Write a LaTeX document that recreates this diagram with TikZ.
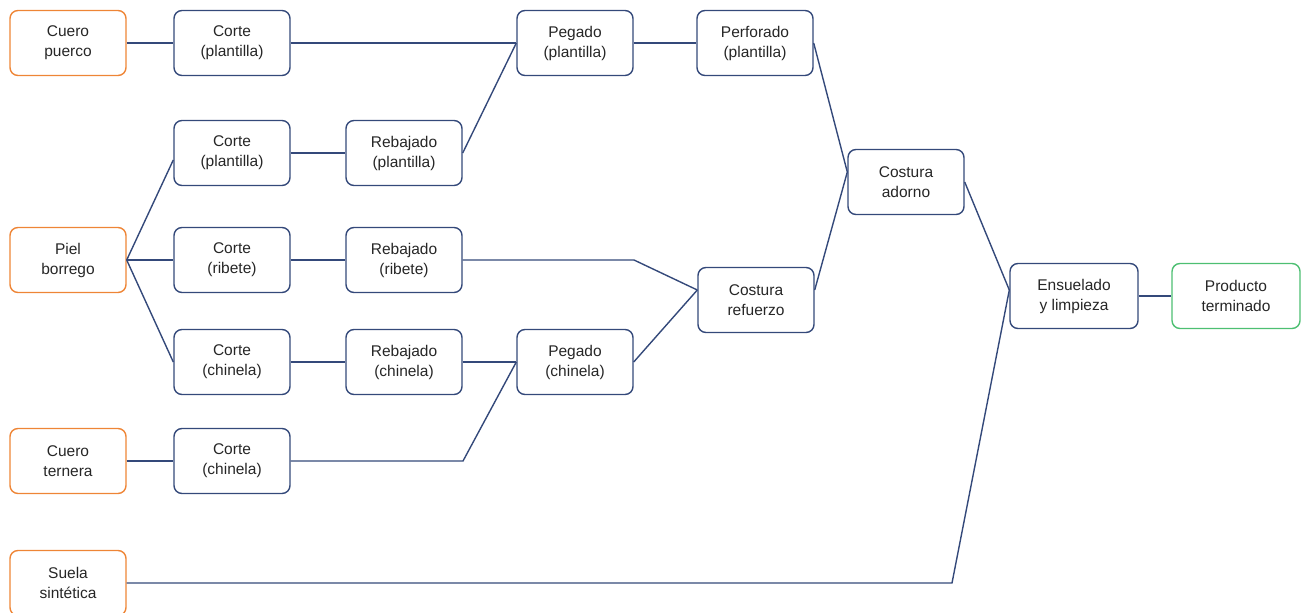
\documentclass[tikz,border=0pt]{standalone}
\usepackage{fontspec}
\setmainfont{Liberation Sans}
\definecolor{navy}{HTML}{34497A}
\definecolor{orangeC}{HTML}{EE8536}
\definecolor{greenC}{HTML}{4DBF72}
\definecolor{txt}{HTML}{262626}
\begin{document}
\begin{tikzpicture}[x=1pt,y=-1pt,
  box/.style={draw=navy, line width=1.4pt, rounded corners=8pt, minimum width=116pt,
    minimum height=65pt, align=center, inner sep=0pt, text=txt,
    font=\fontsize{15.5}{20}\selectfont},
  raw/.style={box, draw=orangeC},
  wide/.style={box, minimum width=128pt},
  fin/.style={wide, draw=greenC},
  link/.style={draw=navy, line width=1.4pt}]
\useasboundingbox (0,0) rectangle (1301,613);
% raw materials
\node[raw] (cp) at (68,43) {Cuero\\puerco};
\node[raw] (pb) at (68,260) {Piel\\borrego};
\node[raw] (ct) at (68,461) {Cuero\\ternera};
\node[raw] (ss) at (68,583) {Suela\\sintética};
% cutting
\node[box] (c1) at (232,43) {Corte\\(plantilla)};
\node[box] (c2) at (232,153) {Corte\\(plantilla)};
\node[box] (c3) at (232,260) {Corte\\(ribete)};
\node[box] (c4) at (232,362) {Corte\\(chinela)};
\node[box] (c5) at (232,461) {Corte\\(chinela)};
% rebajado
\node[box] (r1) at (404,153) {Rebajado\\(plantilla)};
\node[box] (r2) at (404,260) {Rebajado\\(ribete)};
\node[box] (r3) at (404,362) {Rebajado\\(chinela)};
% pegado
\node[box] (p1) at (575,43) {Pegado\\(plantilla)};
\node[box] (p2) at (575,362) {Pegado\\(chinela)};
% later steps
\node[box] (pf) at (755,43) {Perforado\\(plantilla)};
\node[box] (cr) at (756,300) {Costura\\refuerzo};
\node[box] (ca) at (906,182) {Costura\\adorno};
\node[wide] (en) at (1074,296) {Ensuelado\\y limpieza};
\node[fin] (pt) at (1236,296) {Producto\\terminado};
% helper coordinates
\coordinate (k1) at (634,260);
\coordinate (k2) at (463,461);
\coordinate (s1) at (952,583);
% connectors
\draw[link] (cp.east) -- (c1.west);
\draw[link] (c1.east) -- (p1.west);
\draw[link] (r1.east) -- (p1.west);
\draw[link] (p1.east) -- (pf.west);
\draw[link] (pf.east) -- ([yshift=10pt]ca.west);
\draw[link] ([yshift=10pt]cr.east) -- ([yshift=10pt]ca.west);
\draw[link] (ca.east) -- ([yshift=6pt]en.west);
\draw[link] (ss.east) -- (s1) -- ([yshift=6pt]en.west);
\draw[link] (en.east) -- (pt.west);
\draw[link] (pb.east) -- ([yshift=-7pt]c2.west);
\draw[link] (pb.east) -- (c3.west);
\draw[link] (pb.east) -- (c4.west);
\draw[link] (c2.east) -- (r1.west);
\draw[link] (c3.east) -- (r2.west);
\draw[link] (c4.east) -- (r3.west);
\draw[link] (r2.east) -- (k1) -- ([yshift=10pt]cr.west);
\draw[link] (r3.east) -- (p2.west);
\draw[link] (ct.east) -- (c5.west);
\draw[link] (c5.east) -- (k2) -- (p2.west);
\draw[link] (p2.east) -- ([yshift=10pt]cr.west);
\end{tikzpicture}
\end{document}
